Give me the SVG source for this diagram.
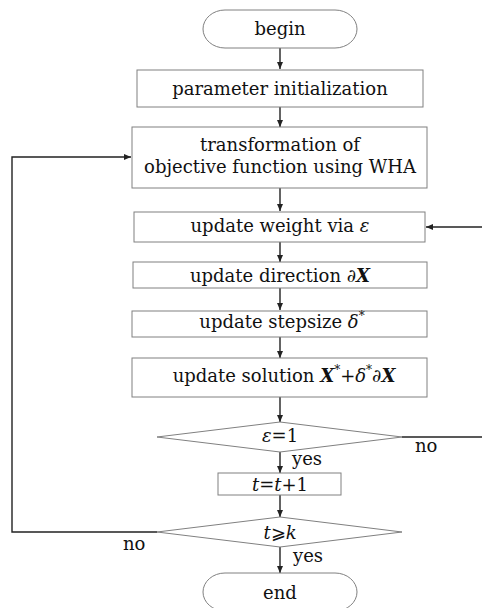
<svg xmlns="http://www.w3.org/2000/svg" width="482" height="608" viewBox="0 0 482 608">
<defs>
<marker id="ah" markerWidth="8" markerHeight="8" refX="7" refY="4" orient="auto" markerUnits="userSpaceOnUse">
<path d="M0,1 L7,4 L0,7 Z" fill="#222"/>
</marker>
<style>
.box{fill:#fff;stroke:#808080;stroke-width:1}
.t{font-family:"DejaVu Serif","Liberation Serif",serif;font-size:18px;fill:#111;text-anchor:middle}
.l{font-family:"DejaVu Serif","Liberation Serif",serif;font-size:18px;fill:#111}
.i{font-style:italic}
.b{font-style:italic;font-weight:bold}
.c{fill:none;stroke:#222;stroke-width:1.4}
</style>
</defs>
<rect width="482" height="608" fill="#fff"/>
<g id="connectors">
<line class="c" x1="280" y1="48" x2="280" y2="69" marker-end="url(#ah)"/>
<line class="c" x1="280" y1="107" x2="280" y2="127" marker-end="url(#ah)"/>
<line class="c" x1="280" y1="188" x2="280" y2="211" marker-end="url(#ah)"/>
<line class="c" x1="280" y1="242" x2="280" y2="262" marker-end="url(#ah)"/>
<line class="c" x1="280" y1="288" x2="280" y2="310" marker-end="url(#ah)"/>
<line class="c" x1="280" y1="337" x2="280" y2="358" marker-end="url(#ah)"/>
<line class="c" x1="280" y1="397" x2="280" y2="422" marker-end="url(#ah)"/>
<line class="c" x1="280" y1="452" x2="280" y2="473" marker-end="url(#ah)"/>
<line class="c" x1="280" y1="495" x2="280" y2="517" marker-end="url(#ah)"/>
<line class="c" x1="280" y1="547" x2="280" y2="573" marker-end="url(#ah)"/>
<polyline class="c" points="157,532 12,532 12,157 131,157" marker-end="url(#ah)"/>
<line class="c" x1="402" y1="437" x2="482" y2="437"/>
<line class="c" x1="482" y1="227" x2="426" y2="227" marker-end="url(#ah)"/>
</g>
<g id="begin">
<rect class="box" x="203" y="10" width="154" height="38" rx="22" ry="19"/>
<text class="t" x="280" y="35">begin</text>
</g>
<g id="init">
<rect class="box" x="137" y="70" width="286" height="37"/>
<text class="t" x="280" y="95">parameter initialization</text>
</g>
<g id="transform">
<rect class="box" x="132" y="127" width="295" height="61"/>
<text class="t" x="280" y="151">transformation of</text>
<text class="t" x="280" y="173">objective function using WHA</text>
</g>
<g id="weight">
<rect class="box" x="134" y="212" width="291" height="30"/>
<text class="t" x="280" y="232">update weight via <tspan class="i">ε</tspan></text>
</g>
<g id="direction">
<rect class="box" x="133" y="262" width="294" height="26"/>
<text class="t" x="280" y="282">update direction ∂<tspan class="b">X</tspan></text>
</g>
<g id="stepsize">
<rect class="box" x="132" y="311" width="295" height="26"/>
<text class="t" x="282" y="328">update stepsize <tspan class="i">δ</tspan><tspan font-size="12" dy="-8">*</tspan></text>
</g>
<g id="solution">
<rect class="box" x="132" y="358" width="295" height="39"/>
<text class="t" x="284" y="382">update solution <tspan class="b">X</tspan><tspan font-size="12" dy="-8">*</tspan><tspan dy="8">+</tspan><tspan class="i">δ</tspan><tspan font-size="12" dy="-8">*</tspan><tspan dy="8">∂</tspan><tspan class="b">X</tspan></text>
</g>
<g id="cond1">
<polygon class="box" points="157,437 280,422 402,437 280,452"/>
<text class="t" x="280" y="442"><tspan class="i">ε</tspan>=1</text>
<text class="l" x="415" y="452">no</text>
<text class="l" x="292" y="465">yes</text>
</g>
<g id="incr">
<rect class="box" x="218" y="473" width="123" height="22"/>
<text class="t" x="280" y="491"><tspan class="i">t</tspan>=<tspan class="i">t</tspan>+1</text>
</g>
<g id="cond2">
<polygon class="box" points="157,532 280,517 402,532 280,547"/>
<text class="t" x="280" y="539"><tspan class="i">t</tspan>⩾<tspan class="i">k</tspan></text>
<text class="l" x="123" y="550">no</text>
<text class="l" x="293" y="562">yes</text>
</g>
<g id="end">
<rect class="box" x="203" y="573" width="154" height="38" rx="22" ry="19"/>
<text class="t" x="280" y="599">end</text>
</g>
</svg>
